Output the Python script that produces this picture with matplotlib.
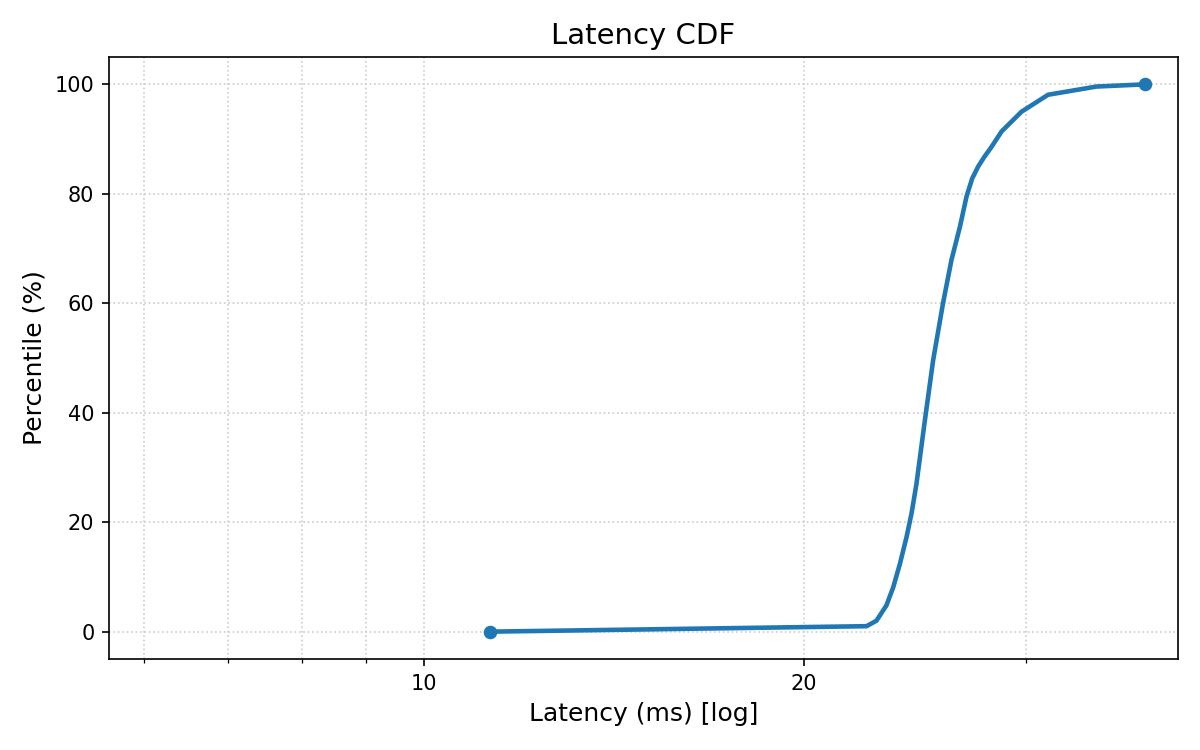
import matplotlib
matplotlib.use("Agg")
import matplotlib.pyplot as plt
from matplotlib.ticker import ScalarFormatter, LogLocator, NullFormatter

# Latency (ms) and percentile values
latency_ms = [11.28, 22.43, 22.84, 23.26, 23.55, 23.84, 24.13, 24.35, 24.57, 24.95,
              25.33, 25.79, 26.19, 26.60, 26.92, 27.20, 27.50, 27.80, 28.18, 28.70,
              29.76, 31.24, 34.12, 37.28]
percentile = [0, 1.0, 2.0, 4.8, 8.1, 12.4, 17.3, 21.6, 27.0, 38.6,
              49.6, 60.0, 67.9, 74.0, 79.5, 82.8, 85.0, 86.7, 88.6, 91.4,
              95.0, 98.1, 99.6, 100.0]
major_ticks = [10, 20]

fig = plt.figure(figsize=(8, 5), dpi=150)
ax = fig.add_axes([0.0908, 0.1213, 0.8909, 0.8027])

color = "#1f77b4"
ax.plot(latency_ms, percentile, color=color, linewidth=2.2)
ax.plot([latency_ms[0], latency_ms[-1]], [percentile[0], percentile[-1]],
        linestyle="none", marker="o", markersize=5.5, color=color)

ax.set_xscale("log")
ax.set_xlim(5.63, 39.6)
ax.set_ylim(-5, 105)
ax.set_xticks(major_ticks)
ax.xaxis.set_major_formatter(ScalarFormatter())
ax.xaxis.set_minor_locator(LogLocator(base=10, subs=range(2, 10)))
ax.xaxis.set_minor_formatter(NullFormatter())
ax.set_yticks([0, 20, 40, 60, 80, 100])

ax.grid(True, which="both", axis="x", linestyle=":", color="#cccccc", linewidth=0.8)
ax.grid(True, which="major", axis="y", linestyle=":", color="#cccccc", linewidth=0.8)
ax.set_axisbelow(True)

ax.set_title("Latency CDF", fontsize=14)
ax.set_xlabel("Latency (ms) [log]", fontsize=12)
ax.set_ylabel("Percentile (%)", fontsize=12)
ax.tick_params(labelsize=10)

fig.savefig("out.png", dpi=150)
